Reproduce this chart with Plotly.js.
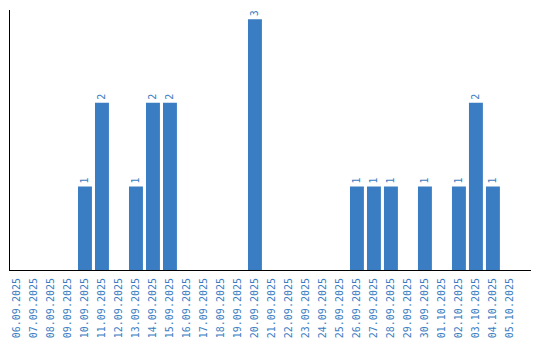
<!DOCTYPE html>
<html><head><meta charset="utf-8">
<script src="https://cdn.plot.ly/plotly-3.0.1.min.js"></script>
<style>html,body{margin:0;padding:0;background:#fff}#c{width:540px;height:340px}</style>
</head><body><div id="c"></div>
<script>
const dates = ["06.09.2025","07.09.2025","08.09.2025","09.09.2025","10.09.2025","11.09.2025","12.09.2025","13.09.2025","14.09.2025","15.09.2025","16.09.2025","17.09.2025","18.09.2025","19.09.2025","20.09.2025","21.09.2025","22.09.2025","23.09.2025","24.09.2025","25.09.2025","26.09.2025","27.09.2025","28.09.2025","29.09.2025","30.09.2025","01.10.2025","02.10.2025","03.10.2025","04.10.2025","05.10.2025"];
const counts = [0,0,0,0,1,2,0,1,2,2,0,0,0,0,3,0,0,0,0,0,1,1,1,0,1,0,1,2,1,0];
const labels = counts.map(v => v ? String(v) : "");
const blue = "#3a7dc2";
Plotly.newPlot("c", [{
  type: "bar", x: dates, y: counts, text: labels,
  textposition: "outside", textangle: -90, cliponaxis: false,
  textfont: {family: "DejaVu Sans Mono", size: 10, color: blue},
  marker: {color: blue}, hoverinfo: "none"
}], {
  width: 540, height: 340,
  margin: {l: 10, r: 9, t: 10, b: 70},
  bargap: 0.18,
  paper_bgcolor: "#fff", plot_bgcolor: "#fff",
  showlegend: false,
  xaxis: {type: "category", range: [-0.41, 30.24], tickangle: -90,
    tickfont: {family: "DejaVu Sans Mono", size: 10, color: blue},
    ticklabelstandoff: 3,
    showline: true, linecolor: "#000", linewidth: 1, ticks: "", showgrid: false, zeroline: false, fixedrange: true},
  yaxis: {range: [0, 3.11], showticklabels: false, showgrid: false, zeroline: false,
    showline: true, linecolor: "#000", linewidth: 1, ticks: "", fixedrange: true}
}, {staticPlot: true});
</script></body></html>
